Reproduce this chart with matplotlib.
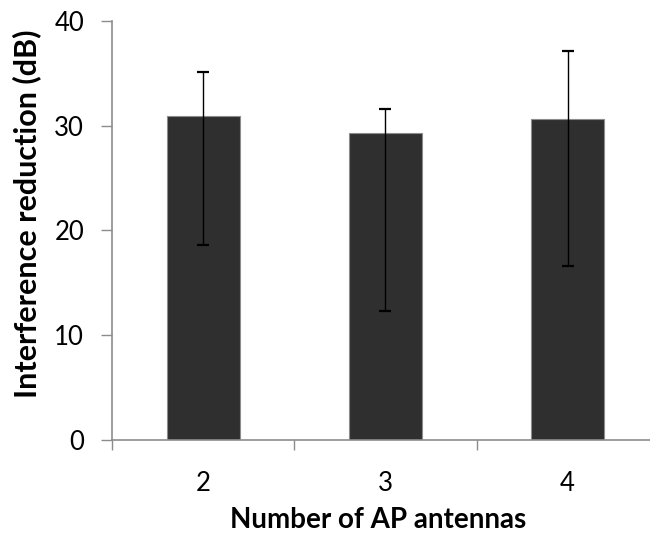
import numpy as np
import matplotlib.pyplot as plt

plt.rcParams['font.family'] = ['Lato', 'DejaVu Sans']

antennas = ['2', '3', '4']
reduction = [30.9, 29.25, 30.6]
err_high = [35.1, 31.6, 37.1]
err_low = [18.6, 12.35, 16.6]

x = np.arange(len(antennas))
mean = np.array(reduction)
yerr = [mean - np.array(err_low), np.array(err_high) - mean]

fig = plt.figure(figsize=(6.5, 5.41), dpi=100)
ax = fig.add_axes([111.9 / 650, 1 - 440 / 541, 546.9 / 650, 419.3 / 541])

ax.bar(x, mean, width=0.4, color='#2f2f2f', edgecolor='#8c8c8c', linewidth=0.8, zorder=2)
ax.errorbar(x, mean, yerr=yerr, fmt='none', ecolor='black', elinewidth=1.0,
            capsize=4.5, capthick=1.6, zorder=3)

ax.set_xlim(-0.5, 2.5)
ax.set_ylim(0, 40)
ax.set_yticks([0, 10, 20, 30, 40])

# category boundaries carry the tick marks, labels sit between them
ax.set_xticks([-0.5, 0.5, 1.5, 2.5])
ax.set_xticklabels([])
ax.set_xticks(x, minor=True)
ax.set_xticklabels(antennas, minor=True)
ax.tick_params(axis='x', which='major', direction='out', length=7.5, width=1, color='#8c8c8c')
ax.tick_params(axis='x', which='minor', length=0, pad=22, labelsize=18.5)
ax.tick_params(axis='y', direction='out', length=8, width=1, color='#8c8c8c', pad=12, labelsize=18.5)

for side in ['top', 'right']:
    ax.spines[side].set_visible(False)
for side in ['left', 'bottom']:
    ax.spines[side].set_color('#8c8c8c')
    ax.spines[side].set_linewidth(1.2)

ax.set_xlabel('Number of AP antennas', fontsize=20, fontweight='bold')
ax.set_ylabel('Interference reduction (dB)', fontsize=22, fontweight='bold')
ax.xaxis.set_label_coords(0.4866, -0.16)
ax.yaxis.set_label_coords(-0.13, 0.539)

fig.savefig('out.png', dpi=100)
